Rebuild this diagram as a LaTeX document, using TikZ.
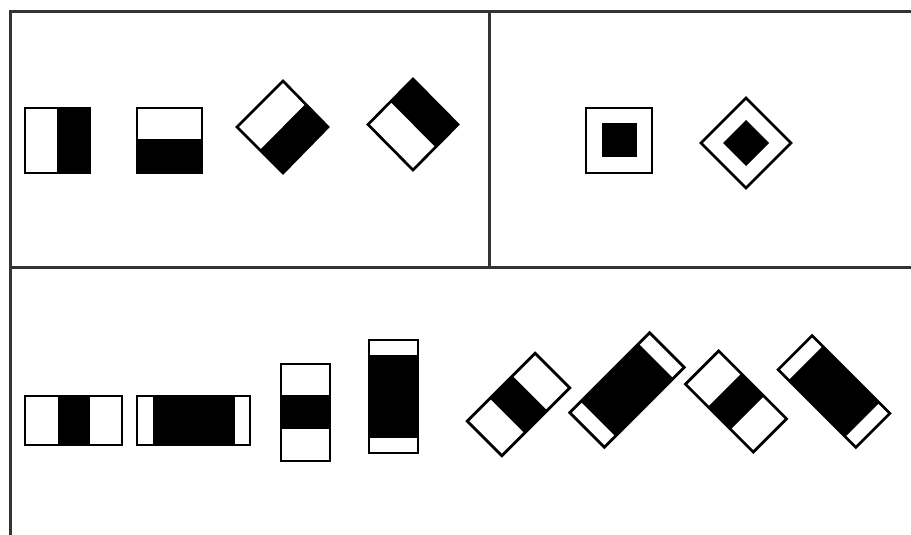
\documentclass[tikz,border=0pt]{standalone}
\begin{document}
\begin{tikzpicture}[x=1pt,y=-1pt,
  frame/.style={draw=black!80,line width=3pt},
  outl/.style={draw=black,line width=2.7pt,line join=miter},
  blk/.style={fill=black}]
\useasboundingbox (0,0) rectangle (911,535);
% frame
\draw[frame] (911,12) -- (10,12) -- (10,535);
\draw[frame] (489,12) -- (489,267);
\draw[frame] (10,267) -- (911,267);

% 1: square, left white, right black
\fill[blk] (57,108) rectangle (90,173);
\draw[outl] (25,108) rectangle (90,173);
% 2: square, top white, bottom black
\fill[blk] (137,139) rectangle (202,173);
\draw[outl] (137,108) rectangle (202,173);
% 3: diamond, upper-left white, lower-right black
\fill[blk] (305.5,104) -- (328,127) -- (283,173) -- (260,150) -- cycle;
\draw[outl] (283,81) -- (328,127) -- (283,173) -- (237,127) -- cycle;
% 4: diamond, upper-right black, lower-left white
\fill[blk] (413,79) -- (458,124.5) -- (435.5,147.25) -- (390.5,101.75) -- cycle;
\draw[outl] (413,79) -- (458,124.5) -- (413,170) -- (368,124.5) -- cycle;

% 5: square in square
\draw[outl] (586,108) rectangle (652,173);
\fill[blk] (602,123) rectangle (637,157);
% 6: diamond in diamond
\draw[outl] (746,98) -- (791,143) -- (746,188) -- (701,143) -- cycle;
\fill[blk] (746,120) -- (769,143) -- (746,166) -- (723,143) -- cycle;

% 7
\fill[blk] (58,396) rectangle (90,445);
\draw[outl] (25,396) rectangle (122,445);
% 8
\fill[blk] (153,396) rectangle (235,445);
\draw[outl] (137,396) rectangle (250,445);
% 9
\fill[blk] (281,395) rectangle (330,429);
\draw[outl] (281,364) rectangle (330,461);
% 10
\fill[blk] (369,355) rectangle (418,438);
\draw[outl] (369,340) rectangle (418,453);

% 11
\begin{scope}[shift={(518.5,404.5)},rotate=45]
  \fill[blk] (-16,-24.5) rectangle (16,24.5);
  \draw[outl] (-48,-24.5) rectangle (48,24.5);
\end{scope}
% 12
\begin{scope}[shift={(627,390)},rotate=45]
  \fill[blk] (-41,-24.5) rectangle (41,24.5);
  \draw[outl] (-56.5,-24.5) rectangle (56.5,24.5);
\end{scope}
% 13
\begin{scope}[shift={(736,401.5)},rotate=-45]
  \fill[blk] (-16,-23.5) rectangle (16,23.5);
  \draw[outl] (-48,-23.5) rectangle (48,23.5);
\end{scope}
% 14
\begin{scope}[shift={(834,391.5)},rotate=-45]
  \fill[blk] (-40,-24) rectangle (40,24);
  \draw[outl] (-55,-24) rectangle (55,24);
\end{scope}
\end{tikzpicture}
\end{document}
